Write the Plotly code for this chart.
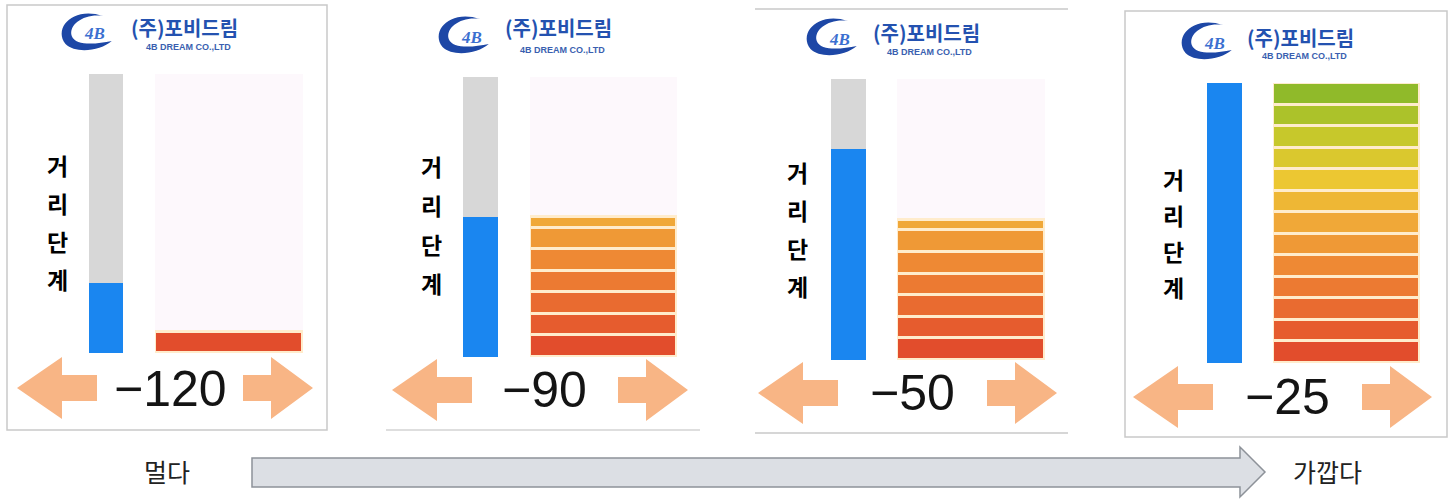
import plotly.graph_objects as go
from plotly.colors import sample_colorscale

# ---------------- data ----------------
distance_labels = ["−120", "−90", "−50", "−25"]
gauge_levels = [3.25, 6.5, 9.75, 13]      # filled part of the blue gauge (of 13)
bar_levels = [1, 6.5, 6.5, 13]            # height of the striped level bar (segments)
max_level = 13
side_label = ["거", "리", "단", "계"]
logo_main = "(주)포비드림"
logo_sub = "4B DREAM CO.,LTD"
far_label = "멀다"
near_label = "가깝다"

# ---------------- layout geometry (pixels) ----------------
W, H = 1450, 502
def X(p): return p / W
def Y(p): return 1 - p / H

gauge_x = [(89, 123), (463, 498), (831, 866), (1207, 1242)]
stripe_x = [(155, 303), (530, 677), (897, 1045), (1273, 1420)]
plot_y = [(74, 353), (77, 357), (79, 360), (83, 363)]
label_x = [57, 432, 798, 1173]
label_y0 = [165, 166, 172, 179]
label_dy = [38, 39, 38, 36]
number_pos = [(170, 389), (544, 390), (912, 393), (1287, 397)]
left_tip = [17, 392, 758, 1133]
right_tip = [313, 688, 1057, 1432]
arrow_y = [388, 390, 393, 397]
swoosh_c = [(88, 32), (465, 35), (833, 37), (1208, 41)]
logo_txt = [(184, 28, 47), (558, 28, 50), (926, 33, 52), (1300, 37, 56)]

colorscale = [[0.0, "#e0452b"], [0.25, "#ec7631"], [0.5, "#f0a838"],
              [0.66, "#ecc832"], [0.82, "#c4c82a"], [1.0, "#82b62a"]]

fig = go.Figure()
layout_axes = {}

for i in range(4):
    gx = 2 * i + 1
    sx = 2 * i + 2
    yi = i + 1
    xa_g = "x" if gx == 1 else f"x{gx}"
    xa_s = f"x{sx}"
    ya = "y" if yi == 1 else f"y{yi}"
    # gauge: blue filled part + gray remainder
    fig.add_trace(go.Bar(x=[0], y=[gauge_levels[i]], width=1, xaxis=xa_g, yaxis=ya,
                         marker=dict(color="#1a86f0", line=dict(width=0)),
                         showlegend=False, hoverinfo="skip"))
    fig.add_trace(go.Bar(x=[0], y=[max_level - gauge_levels[i]], width=1, xaxis=xa_g, yaxis=ya,
                         marker=dict(color="#d7d7d7", line=dict(width=0)),
                         showlegend=False, hoverinfo="skip"))
    # striped level bar
    k = 0
    while k < bar_levels[i]:
        h = min(1, bar_levels[i] - k)
        col = sample_colorscale(colorscale, [(k + 0.5) / max_level])[0]
        fig.add_trace(go.Bar(x=[0], y=[h], width=1, xaxis=xa_s, yaxis=ya,
                             marker=dict(color=col, line=dict(color="#ffeccc", width=3)),
                             showlegend=False, hoverinfo="skip"))
        k += 1

    y0, y1 = plot_y[i]
    ax_common = dict(showgrid=False, zeroline=False, showticklabels=False,
                     showline=False, fixedrange=True)
    layout_axes["xaxis" if gx == 1 else f"xaxis{gx}"] = dict(
        domain=[X(gauge_x[i][0]), X(gauge_x[i][1])], range=[-0.5, 0.5],
        anchor=ya, **ax_common)
    layout_axes[f"xaxis{sx}"] = dict(
        domain=[X(stripe_x[i][0]), X(stripe_x[i][1])], range=[-0.5, 0.5],
        anchor=ya, **ax_common)
    layout_axes["yaxis" if yi == 1 else f"yaxis{yi}"] = dict(
        domain=[Y(y1), Y(y0)], range=[0, max_level], anchor=xa_g, **ax_common)

shapes = []
annotations = []

def path(points):
    s = "M " + " L ".join(f"{X(a):.5f},{Y(b):.5f}" for a, b in points) + " Z"
    return s

peach = "#f8b585"
for i in range(4):
    ay = arrow_y[i]
    lt = left_tip[i]
    shapes.append(dict(type="path", xref="paper", yref="paper", layer="above",
                       path=path([(lt, ay), (lt + 45, ay - 31), (lt + 45, ay - 13),
                                  (lt + 80, ay - 13), (lt + 80, ay + 13),
                                  (lt + 45, ay + 13), (lt + 45, ay + 31)]),
                       fillcolor=peach, line=dict(width=0)))
    rt = right_tip[i]
    shapes.append(dict(type="path", xref="paper", yref="paper", layer="above",
                       path=path([(rt, ay), (rt - 42, ay - 31), (rt - 42, ay - 13),
                                  (rt - 70, ay - 13), (rt - 70, ay + 13),
                                  (rt - 42, ay + 13), (rt - 42, ay + 31)]),
                       fillcolor=peach, line=dict(width=0)))
    nx, ny = number_pos[i]
    annotations.append(dict(x=X(nx), y=Y(ny), xref="paper", yref="paper",
                            text=distance_labels[i], showarrow=False,
                            font=dict(family="Liberation Sans", size=50, color="#141414"),
                            xanchor="center", yanchor="middle"))
    for j, ch in enumerate(side_label):
        annotations.append(dict(x=X(label_x[i]), y=Y(label_y0[i] + j * label_dy[i]),
                                xref="paper", yref="paper", text=f"<b>{ch}</b>",
                                showarrow=False,
                                font=dict(family="Noto Sans CJK KR", size=23, color="#000"),
                                xanchor="center", yanchor="middle"))
    # logo
    cx, cy = swoosh_c[i]
    rx, ry = 25, 20
    pts = [(0.6, -0.8), (-0.6, -1.3), (-1.4, -0.2), (-0.9, 0.6),
           (-0.5, 1.1), (0.5, 0.95), (0.95, 0.45),
           (0.3, 0.62), (-0.5, 0.7), (-0.65, 0.2),
           (-0.8, -0.4), (-0.1, -0.95), (0.6, -0.8)]
    P = [(X(cx + a * rx), Y(cy + b * ry)) for a, b in pts]
    p = f"M {P[0][0]:.5f},{P[0][1]:.5f} "
    for s in range(1, 13, 3):
        p += "C " + " ".join(f"{P[s + t][0]:.5f},{P[s + t][1]:.5f}" for t in range(3)) + " "
    p += "Z"
    shapes.append(dict(type="path", xref="paper", yref="paper", path=p,
                       fillcolor="#1d47a6", line=dict(width=0), layer="above"))
    annotations.append(dict(x=X(cx + 6), y=Y(cy + 2), xref="paper", yref="paper",
                            text="<b><i>4B</i></b>", showarrow=False,
                            font=dict(family="Liberation Serif", size=17, color="#3b6fd0"),
                            xanchor="center", yanchor="middle"))
    tx, ty, sy = logo_txt[i]
    annotations.append(dict(x=X(tx), y=Y(ty), xref="paper", yref="paper",
                            text=f"<b>{logo_main}</b>", showarrow=False,
                            font=dict(family="Noto Sans CJK KR", size=20, color="#2452b0"),
                            xanchor="center", yanchor="middle"))
    annotations.append(dict(x=X(tx + 4), y=Y(sy), xref="paper", yref="paper",
                            text=f"<b>{logo_sub}</b>", showarrow=False,
                            font=dict(family="Liberation Sans", size=9, color="#3a5fb0"),
                            xanchor="center", yanchor="middle"))

# panel frames
frame = dict(color="#c9c9c9", width=1.5)
shapes += [
    dict(type="rect", xref="paper", yref="paper", x0=X(7), x1=X(327), y0=Y(430), y1=Y(5),
         line=frame, layer="below"),
    dict(type="line", xref="paper", yref="paper", x0=X(386), x1=X(700), y0=Y(430), y1=Y(430),
         line=dict(color="#dedede", width=2)),
    dict(type="line", xref="paper", yref="paper", x0=X(755), x1=X(1068), y0=Y(9), y1=Y(9),
         line=frame),
    dict(type="line", xref="paper", yref="paper", x0=X(755), x1=X(1068), y0=Y(433), y1=Y(433),
         line=frame),
    dict(type="rect", xref="paper", yref="paper", x0=X(1125), x1=X(1447), y0=Y(437), y1=Y(11),
         line=frame, layer="below"),
]

# bottom direction arrow
shapes.append(dict(type="path", xref="paper", yref="paper",
                   path=path([(252, 458), (1240, 458), (1240, 447), (1265, 472),
                              (1240, 497), (1240, 487), (252, 487)]),
                   fillcolor="#dcdfe4", line=dict(color="#8d9299", width=1.5)))
annotations.append(dict(x=X(167), y=Y(471), xref="paper", yref="paper", text=far_label,
                        showarrow=False, font=dict(family="Noto Sans CJK KR", size=25, color="#222"),
                        xanchor="center", yanchor="middle"))
annotations.append(dict(x=X(1327), y=Y(471), xref="paper", yref="paper", text=near_label,
                        showarrow=False, font=dict(family="Noto Sans CJK KR", size=25, color="#222"),
                        xanchor="center", yanchor="middle"))

fig.update_layout(width=W, height=H, margin=dict(l=0, r=0, t=0, b=0),
                  paper_bgcolor="white", plot_bgcolor="#fdf8fc",
                  barmode="stack", bargap=0, showlegend=False,
                  shapes=shapes, annotations=annotations, **layout_axes)

fig.write_html("out.html", config={"displayModeBar": False},
               post_script="document.body.style.margin='0';document.body.style.overflow='hidden';")
